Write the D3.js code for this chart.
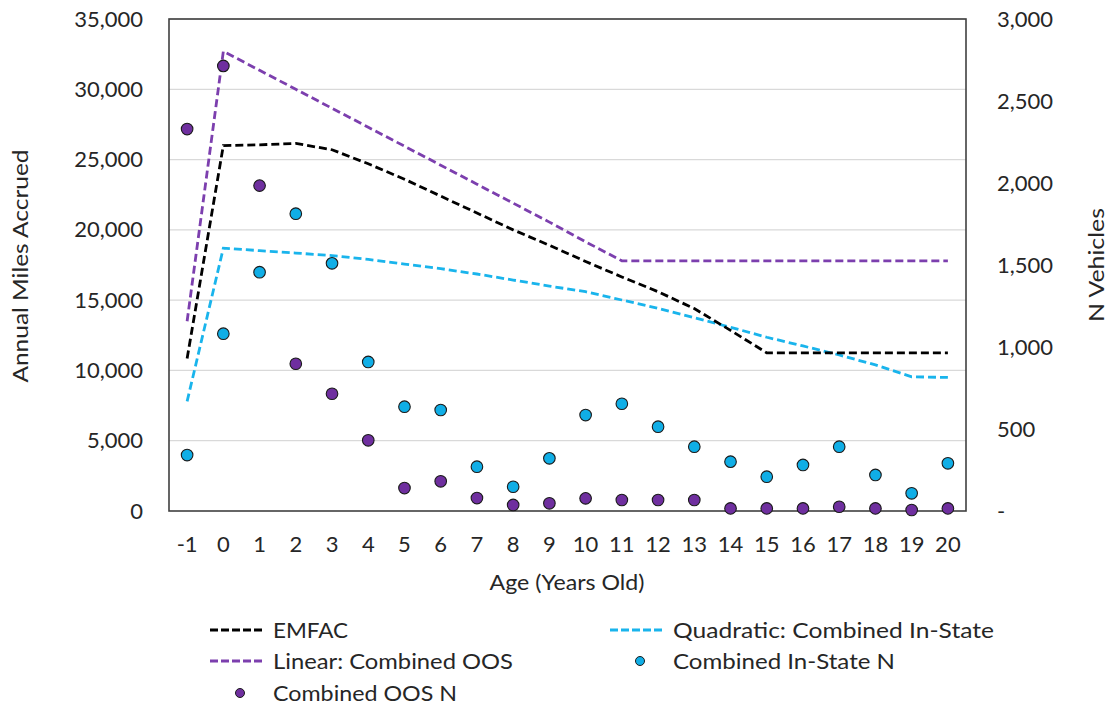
<!DOCTYPE html>
<html>
<head>
<meta charset="utf-8">
<script src="https://cdn.jsdelivr.net/npm/d3@7"></script>
<style>
  html, body { margin: 0; padding: 0; background: #fff; }
  svg { display: block; font-family: Lato, "Open Sans", sans-serif; }
</style>
</head>
<body>
<svg id="chart" width="1111" height="709"></svg>
<script>
const ages = [-1,0,1,2,3,4,5,6,7,8,9,10,11,12,13,14,15,16,17,18,19,20];
const emfac = [10850,26000,26050,26150,25700,24700,23600,22400,21200,20000,18900,17750,16650,15600,14400,12850,11250,11250,11250,11250,11250,11250];
const linearOOS = [13500,32700,31350,30000,28650,27300,25950,24600,23250,21900,20550,19150,17800,17800,17800,17800,17800,17800,17800,17800,17800,17800];
const quadInState = [7800,18700,18520,18350,18170,17900,17570,17240,16860,16430,16000,15600,15010,14420,13750,13070,12360,11740,11100,10390,9550,9500];
const inStateN = [341,1081,1456,1813,1510,909,636,616,270,148,321,585,654,514,392,301,209,281,392,220,108,291];
const oosN = [2329,2714,1984,898,715,431,140,181,79,37,47,77,67,67,67,16,16,16,26,16,6,16];
const leftTicks = [0,5000,10000,15000,20000,25000,30000,35000];
const rightTicks = [0,500,1000,1500,2000,2500,3000];

const svg = d3.select("#chart");
const plot = {left: 169, right: 966, top: 19, bottom: 511};
const FS = 22;
const textColor = "#262626";

const x = d3.scaleBand().domain(ages).range([plot.left, plot.right]);
const yL = d3.scaleLinear().domain([0, 35000]).range([plot.bottom, plot.top]);
const yR = d3.scaleLinear().domain([0, 3000]).range([plot.bottom, plot.top]);
const cx = a => x(a) + x.bandwidth() / 2;

// gridlines
svg.append("g").selectAll("line").data(leftTicks.slice(1)).join("line")
  .attr("x1", plot.left).attr("x2", plot.right)
  .attr("y1", d => yL(d)).attr("y2", d => yL(d))
  .attr("stroke", "#d9d9d9").attr("stroke-width", 1.3);

// left axis
const axL = d3.axisLeft(yL).tickValues(leftTicks).tickSize(0).tickPadding(26)
  .tickFormat(d3.format(","));
const gL = svg.append("g").attr("transform", `translate(${plot.left},0)`).call(axL);
gL.select(".domain").remove();
gL.selectAll("text").attr("font-size", FS).attr("fill", textColor).attr("font-family", "Lato");

// right axis
const axR = d3.axisRight(yR).tickValues(rightTicks).tickSize(0).tickPadding(31)
  .tickFormat(d => d === 0 ? "-" : d3.format(",")(d));
const gR = svg.append("g").attr("transform", `translate(${plot.right},0)`).call(axR);
gR.select(".domain").remove();
gR.selectAll("text").attr("font-size", FS).attr("fill", textColor).attr("font-family", "Lato");

// x axis
const axX = d3.axisBottom(x).tickSize(0).tickPadding(25);
const gX = svg.append("g").attr("transform", `translate(0,${plot.bottom})`).call(axX);
gX.select(".domain").remove();
gX.selectAll("text").attr("font-size", FS).attr("fill", textColor).attr("font-family", "Lato");

// plot border
svg.append("rect").attr("x", plot.left).attr("y", plot.top)
  .attr("width", plot.right - plot.left).attr("height", plot.bottom - plot.top)
  .attr("fill", "none").attr("stroke", "#404040").attr("stroke-width", 1.6);

// lines
const lineSeries = [
  {name: "Quadratic: Combined In-State", values: quadInState, color: "#19b4ec"},
  {name: "EMFAC", values: emfac, color: "#000000"},
  {name: "Linear: Combined OOS", values: linearOOS, color: "#7c3fae"}
];
const line = d3.line().x((d, i) => cx(ages[i])).y(d => yL(d));
svg.append("g").selectAll("path").data(lineSeries).join("path")
  .attr("d", d => line(d.values))
  .attr("fill", "none").attr("stroke", d => d.color)
  .attr("stroke-width", 2.8).attr("stroke-dasharray", "8,4");

// points
const pointSeries = [
  {name: "Combined OOS N", values: oosN, color: "#6f2f9f"},
  {name: "Combined In-State N", values: inStateN, color: "#10aee6"}
];
pointSeries.forEach(s => {
  svg.append("g").selectAll("circle").data(s.values).join("circle")
    .attr("cx", (d, i) => cx(ages[i])).attr("cy", d => yR(d))
    .attr("r", 5.8).attr("fill", s.color)
    .attr("stroke", "#1a1a1a").attr("stroke-width", 1.1);
});

// axis titles
svg.append("text").attr("transform", "translate(28,266) rotate(-90)")
  .attr("text-anchor", "middle").attr("font-size", FS).attr("fill", textColor)
  .attr("textLength", 233).attr("lengthAdjust", "spacingAndGlyphs")
  .text("Annual Miles Accrued");
svg.append("text").attr("transform", "translate(1104,265) rotate(-90)")
  .attr("text-anchor", "middle").attr("font-size", FS).attr("fill", textColor)
  .attr("textLength", 114).attr("lengthAdjust", "spacingAndGlyphs")
  .text("N Vehicles");
svg.append("text").attr("x", 567).attr("y", 590)
  .attr("text-anchor", "middle").attr("font-size", FS).attr("fill", textColor)
  .attr("textLength", 155).attr("lengthAdjust", "spacingAndGlyphs")
  .text("Age (Years Old)");

// legend
const legendItems = [
  {name: "EMFAC", type: "line", color: "#000000", lx: 210, ty: 630, w: 75},
  {name: "Quadratic: Combined In-State", type: "line", color: "#19b4ec", lx: 610, ty: 630, w: 321},
  {name: "Linear: Combined OOS", type: "line", color: "#7c3fae", lx: 210, ty: 661, w: 240},
  {name: "Combined In-State N", type: "dot", color: "#10aee6", lx: 610, ty: 661, w: 222},
  {name: "Combined OOS N", type: "dot", color: "#6f2f9f", lx: 210, ty: 693, w: 184}
];
const lg = svg.append("g");
legendItems.forEach(it => {
  if (it.type === "line") {
    lg.append("line").attr("x1", it.lx).attr("x2", it.lx + 55)
      .attr("y1", it.ty).attr("y2", it.ty)
      .attr("stroke", it.color).attr("stroke-width", 2.8).attr("stroke-dasharray", "8,3");
  } else {
    lg.append("circle").attr("cx", it.lx + 30).attr("cy", it.ty).attr("r", 4.5)
      .attr("fill", it.color).attr("stroke", "#1a1a1a").attr("stroke-width", 1);
  }
  lg.append("text").attr("x", it.lx + 63).attr("y", it.ty).attr("dy", "0.35em")
    .attr("font-size", FS).attr("fill", textColor)
    .attr("textLength", it.w).attr("lengthAdjust", "spacingAndGlyphs")
    .text(it.name);
});
</script>
</body>
</html>
